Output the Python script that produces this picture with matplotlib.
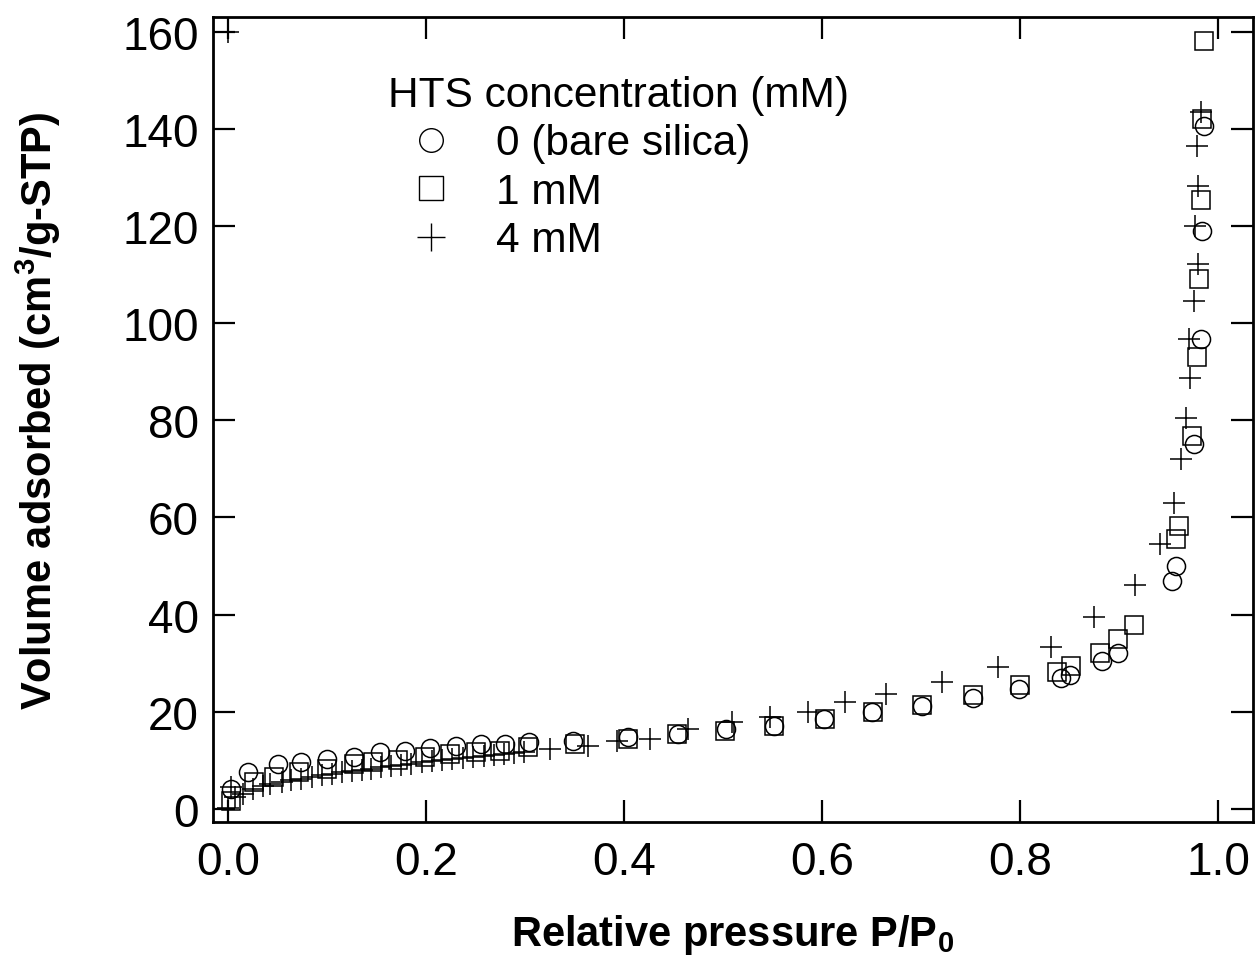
import matplotlib
matplotlib.use("Agg")
import matplotlib.pyplot as plt
from matplotlib.lines import Line2D

plt.rcParams['font.family'] = ['Liberation Sans', 'DejaVu Sans']
plt.rcParams['mathtext.fontset'] = 'custom'
plt.rcParams['mathtext.rm'] = 'Liberation Sans'
plt.rcParams['mathtext.bf'] = 'Liberation Sans:bold'

# 0 mM (bare silica)
x_bare = [0.003, 0.020, 0.051, 0.074, 0.100, 0.127, 0.154, 0.179, 0.204, 0.230, 0.256, 0.280, 0.304,
          0.348, 0.404, 0.454, 0.503, 0.551, 0.602, 0.650, 0.701, 0.752, 0.799,
          0.841, 0.850, 0.883, 0.899, 0.953, 0.957, 0.975, 0.982, 0.984, 0.986]
y_bare = [4.1, 7.5, 9.3, 9.6, 10.3, 10.6, 11.7, 11.9, 12.5, 12.9, 13.4, 13.4, 13.8,
          14.0, 14.7, 15.5, 16.5, 17.1, 18.4, 19.9, 21.2, 22.9, 24.7,
          26.9, 27.6, 30.5, 32.0, 46.9, 50.0, 75.1, 96.7, 118.9, 140.5]

# 1 mM
x_1mm = [0.003, 0.026, 0.047, 0.072, 0.100, 0.127, 0.147, 0.172, 0.199, 0.224, 0.251, 0.275, 0.303,
         0.350, 0.404, 0.453, 0.502, 0.551, 0.603, 0.651, 0.701, 0.752, 0.800,
         0.837, 0.851, 0.881, 0.899, 0.915, 0.957, 0.960, 0.973,
         0.978, 0.980, 0.983, 0.984, 0.986]
y_1mm = [1.7, 5.5, 6.5, 7.5, 8.3, 9.3, 9.6, 10.1, 10.6, 11.3, 11.7, 12.0, 12.7,
         13.4, 14.4, 15.4, 16.1, 17.1, 18.4, 19.9, 21.4, 23.4, 25.4,
         28.2, 29.4, 32.1, 35.0, 37.8, 55.5, 58.2, 76.7,
         93.0, 109.0, 125.4, 142.0, 158.0]

# 4 mM
x_4mm = [0.0, 0.0, 0.003, 0.007, 0.015, 0.025, 0.035, 0.043, 0.055, 0.064, 0.074, 0.085, 0.095,
         0.105, 0.115, 0.125, 0.135, 0.145, 0.155, 0.165, 0.175, 0.185, 0.196, 0.206,
         0.216, 0.226, 0.237, 0.247, 0.259, 0.269, 0.279, 0.289, 0.299, 0.325,
         0.364, 0.393, 0.426, 0.465, 0.509, 0.547, 0.586, 0.623, 0.664, 0.721, 0.778,
         0.831, 0.874, 0.916, 0.941, 0.955, 0.962, 0.967, 0.971, 0.970, 0.975, 0.979,
         0.976, 0.979, 0.978, 0.982]
y_4mm = [160.0, 0.2, 4.5, 2.5, 3.1, 4.1, 4.8, 5.1, 5.5, 5.9, 6.2, 6.5, 6.9,
         7.2, 7.5, 7.7, 8.0, 8.3, 8.6, 8.8, 9.0, 9.3, 9.6, 9.8,
         10.0, 10.2, 10.5, 10.6, 10.9, 11.0, 11.2, 11.5, 11.7, 12.3,
         13.0, 14.0, 14.4, 16.5, 17.8, 18.9, 19.9, 21.9, 23.7, 26.1, 29.3,
         33.3, 39.4, 46.0, 54.5, 63.0, 72.0, 80.4, 88.6, 96.7, 104.5, 112.1,
         120.0, 128.2, 136.4, 143.4]

series_labels = ['0 (bare silica)', '1 mM', '4 mM']
x_ticks = [0.0, 0.2, 0.4, 0.6, 0.8, 1.0]
y_ticks = [0, 20, 40, 60, 80, 100, 120, 140, 160]

fig = plt.figure(figsize=(12.55, 9.62), dpi=100)
ax = fig.add_axes([213 / 1255, 1 - 823 / 962, 1040 / 1255, 805 / 962])

ms = 13
mew = 1.1
ax.plot(x_bare, y_bare, 'o', ms=ms, mfc='none', mec='black', mew=mew, clip_on=False)
ax.plot(x_1mm, y_1mm, 's', ms=ms, mfc='none', mec='black', mew=mew, clip_on=False)
ax.plot(x_4mm, y_4mm, '+', ms=ms + 3, mec='black', mew=mew, clip_on=False)

ax.set_xlim(-0.015, 1.035)
ax.set_ylim(-2.7, 163.0)
ax.set_xticks(x_ticks)
ax.set_xticklabels(['%.1f' % t for t in x_ticks])
ax.set_yticks(y_ticks)

for s in ax.spines.values():
    s.set_linewidth(2)
ax.tick_params(direction='in', length=16, width=1.6, top=True, right=True,
               labelsize=33)
ax.tick_params(axis='x', pad=13)
ax.tick_params(axis='y', pad=10)

ax.set_xlabel(r'Relative pressure P/P$_\mathbf{0}$', fontsize=30, fontweight='bold', labelpad=20)
ax.set_ylabel(r'Volume adsorbed (cm$^\mathbf{3}$/g-STP)', fontsize=30, fontweight='bold')
ax.yaxis.set_label_coords(-0.144, 0.512)

handles = [
    Line2D([], [], ls='none', marker='o', ms=17, mfc='none', mec='black', mew=1.0),
    Line2D([], [], ls='none', marker='s', ms=17, mfc='none', mec='black', mew=1.0),
    Line2D([], [], ls='none', marker='+', ms=20, mec='black', mew=1.0),
]
leg = ax.legend(handles, series_labels, title='HTS concentration (mM)', frameon=False,
                loc='upper left', bbox_to_anchor=(388 / 1255, 1 - 76 / 962),
                bbox_transform=fig.transFigure, borderpad=0, borderaxespad=0,
                fontsize=30.5, title_fontsize=30.5, handlelength=2.05, handletextpad=0.5,
                labelspacing=0.2, alignment='left')

fig.savefig('out.png', dpi=100)
